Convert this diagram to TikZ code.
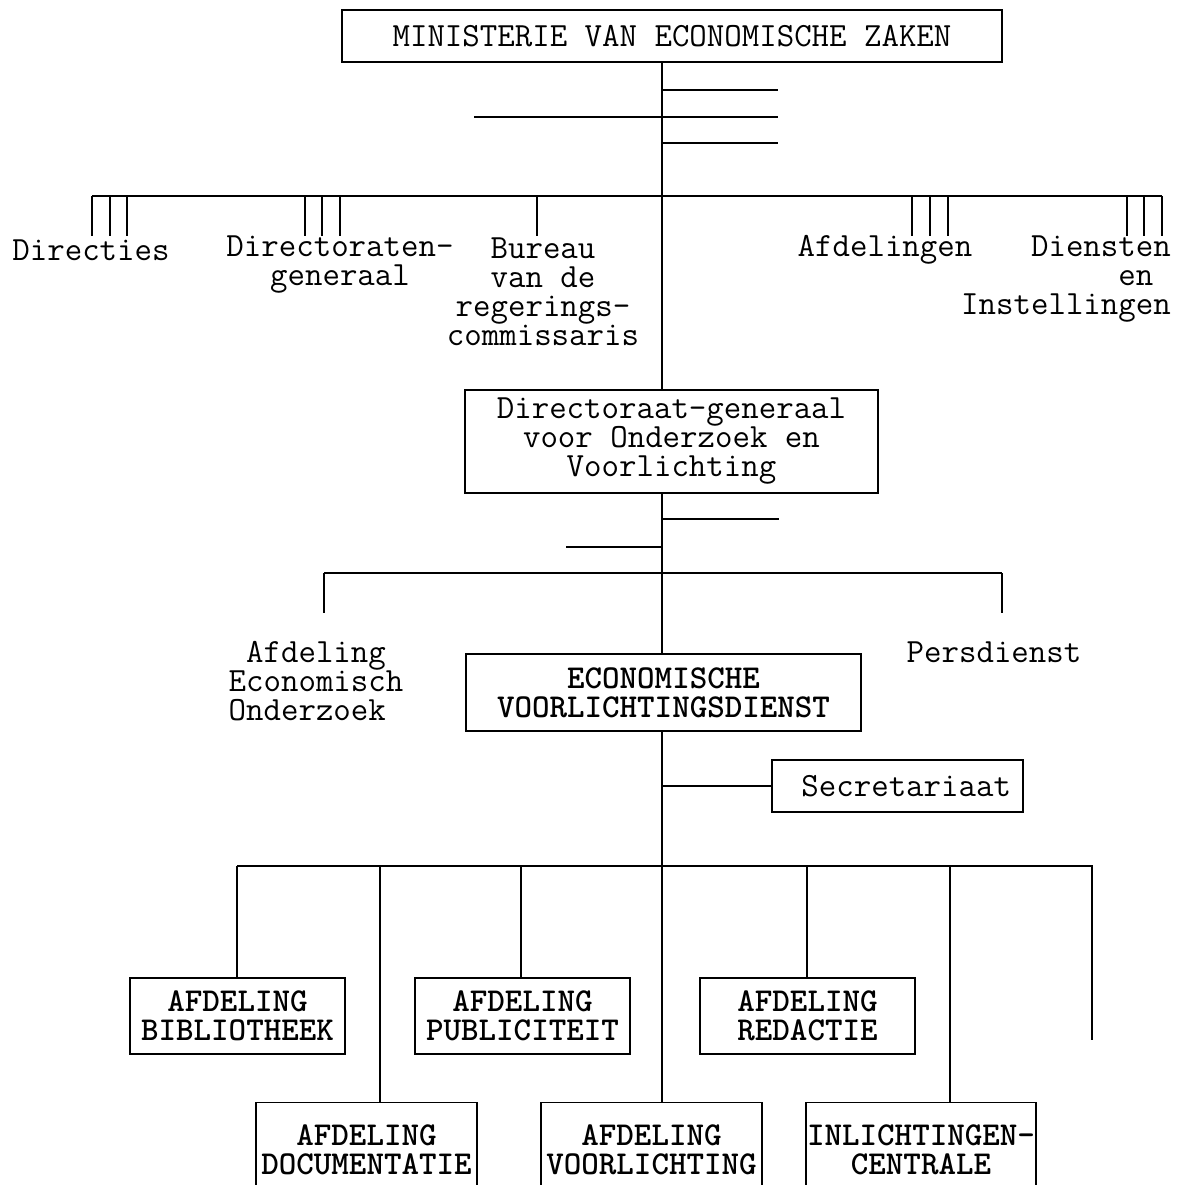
\documentclass[tikz,border=0pt]{standalone}
\usepackage{fontspec}
\tikzset{
  box/.style={draw, line width=1.1pt, inner sep=0pt, align=center},
  lbl/.style={inner sep=0pt},
  caps/.style={font=\ttfamily\bfseries\fontsize{19}{16.5}\selectfont},
}
\begin{document}
\begin{tikzpicture}[x=0.02cm, y=-0.02cm, line width=1.1pt,
    font=\ttfamily\fontsize{19.3}{16.5}\selectfont]
    \useasboundingbox (0,0) rectangle (1181,1185);
    \clip (0,0) rectangle (1181,1185);
    % ministerie
    \node[box, minimum width=13.2cm, minimum height=1.04cm] (min) at (672,36) {MINISTERIE VAN ECONOMISCHE ZAKEN};
    \coordinate (trunk) at (662,196);
    \node[lbl] (dirs) at (91,250) {Directies};
    \node[lbl, align=center] (dgen) at (340,265) {Directoraten-\\generaal};
    \node[lbl, align=center] (bureau) at (543,292) {Bureau\\van de\\regerings-\\commissaris};
    \node[lbl] (afdn) at (885,250) {Afdelingen};
    \node[lbl, align=right] (dienst) at (1066,279) {Diensten\\en\phantom{n}\\Instellingen};
    % directoraat-generaal
    \node[box, minimum width=8.26cm, minimum height=2.06cm] (dgov) at (671.5,441.5) {Directoraat-generaal\\voor Onderzoek en\\Voorlichting};
    \node[lbl, align=left] (aeo) at (316,681) {\phantom{E}Afdeling\\Economisch\\Onderzoek};
    \node[lbl] (pers) at (994,652) {Persdienst};
    \node[box, caps, minimum width=7.9cm, minimum height=1.54cm] (evd) at (663.5,692.5) {ECONOMISCHE\\VOORLICHTINGSDIENST};
    \node[box, minimum width=5.02cm, minimum height=1.04cm] (secr) at (897.5,786) {\ Secretariaat};
    % afdelingen
    \node[box, caps, minimum width=4.3cm, minimum height=1.52cm] (bib) at (237.5,1016) {AFDELING\\BIBLIOTHEEK};
    \node[box, caps, minimum width=4.3cm, minimum height=1.52cm] (pub) at (522.5,1016) {AFDELING\\PUBLICITEIT};
    \node[box, caps, minimum width=4.3cm, minimum height=1.52cm] (red) at (807.5,1016) {AFDELING\\REDACTIE};
    \node[box, caps, minimum width=4.42cm, minimum height=1.9cm] (doc) at (366.5,1150) {AFDELING\\DOCUMENTATIE};
    \node[box, caps, minimum width=4.42cm, minimum height=1.9cm] (vl) at (651.5,1150) {AFDELING\\VOORLICHTING};
    \node[box, caps, minimum width=4.6cm, minimum height=1.9cm] (inl) at (921,1150) {INLICHTINGEN-\\CENTRALE};
    % lijnen boven
    \draw (trunk |- min.south) -- (trunk |- dgov.north);
    \draw (662,90) -- (778,90);
    \draw (474,117) -- (778,117);
    \draw (662,143) -- (778,143);
    \draw (92,196) -- (1162,196);
    \foreach \x in {92,110,127,305,322,340,537,912,930,948,1127,1144,1162}
        \draw (\x,196) -- (\x,236);
    % lijnen midden
    \draw (trunk |- dgov.south) -- (trunk |- evd.north);
    \draw (662,519) -- (779,519);
    \draw (566,547) -- (662,547);
    \draw (324,573) -- (1002,573);
    \draw (324,573) -- (324,613);
    \draw (1002,573) -- (1002,613);
    % lijnen onder
    \draw (trunk |- evd.south) -- (trunk |- vl.north);
    \draw (secr.west) -- (trunk |- secr.west);
    \draw (237,866) -- (1092,866) -- (1092,1040);
    \foreach \x/\n in {237/bib,380/doc,521/pub,807/red,950/inl}
        \draw (\x,866) -- (\x,866 |- \n.north);
\end{tikzpicture}
\end{document}
